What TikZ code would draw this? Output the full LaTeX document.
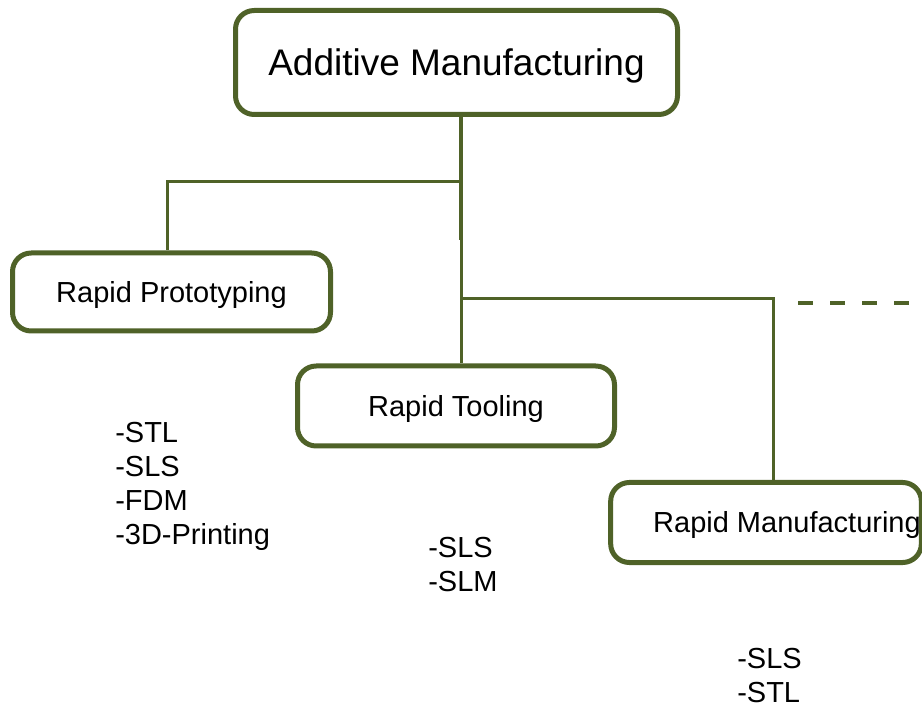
\documentclass[tikz,border=0pt]{standalone}
\usepackage{fontspec}
\setmainfont{Liberation Sans}
\definecolor{olive}{RGB}{79,98,40}
\begin{document}
\begin{tikzpicture}[x=0.75pt,y=-0.75pt,
  box/.style={draw=olive, line width=3.75pt, rounded corners=14pt, fill=white,
    inner sep=0pt, text height=15.6pt, text depth=0pt, font=\fontsize{21.75}{25.5}\selectfont},
  bigbox/.style={box, text height=20pt, font=\fontsize{27.75}{33}\selectfont},
  conn/.style={draw=olive, line width=2.25pt},
  trunk/.style={draw=olive, line width=3pt},
  listtext/.style={anchor=base west, inner sep=0pt, font=\fontsize{21.75}{25.5}\selectfont}
]
\useasboundingbox (0,0) rectangle (922,709);
\clip (0,0) rectangle (922,709);

% coordinates of junctions
\coordinate (j1) at (461,182);
\coordinate (jm) at (461,240);
\coordinate (j2) at (461,299);
\coordinate (k1) at (167,182);
\coordinate (k2) at (773,299);
\coordinate (d1) at (798,303);
\coordinate (d2) at (930,303);

% boxes
\node[bigbox, minimum width=331.5pt, minimum height=78pt] (am) at (456.5,62.5) {Additive Manufacturing};
\node[box, minimum width=238.5pt, minimum height=58.5pt] (rp) at (171.5,292) {Rapid Prototyping};
\node[box, minimum width=237.75pt, minimum height=60pt] (rt) at (456,406) {Rapid Tooling};
\node[box, minimum width=233pt, minimum height=60pt] (rm) at (766,522.5)
  {\makebox[233pt][l]{\hspace{31.9pt}Rapid Manufacturing}};

% connectors
\draw[trunk] (am.south -| j1) -- (jm);
\draw[conn] (jm) -- (j2) -- (j2 |- rt.north);
\draw[conn] (j1) -- (k1) -- (k1 |- rp.north);
\draw[conn] (j2) -- (k2) -- (k2 |- rm.north);
\draw[conn, line width=2.6pt, dash pattern=on 11.25pt off 12.75pt] (d1) -- (d2);

% lists
\node[listtext] (l1) at (115,443) {\begin{tabular}[t]{@{}l@{}}-STL\\-SLS\\-FDM\\-3D-Printing\end{tabular}};
\node[listtext] (l2) at (428,557) {\begin{tabular}[t]{@{}l@{}}-SLS\\-SLM\end{tabular}};
\node[listtext] (l3) at (737,668) {\begin{tabular}[t]{@{}l@{}}-SLS\\-STL\end{tabular}};
\end{tikzpicture}
\end{document}
